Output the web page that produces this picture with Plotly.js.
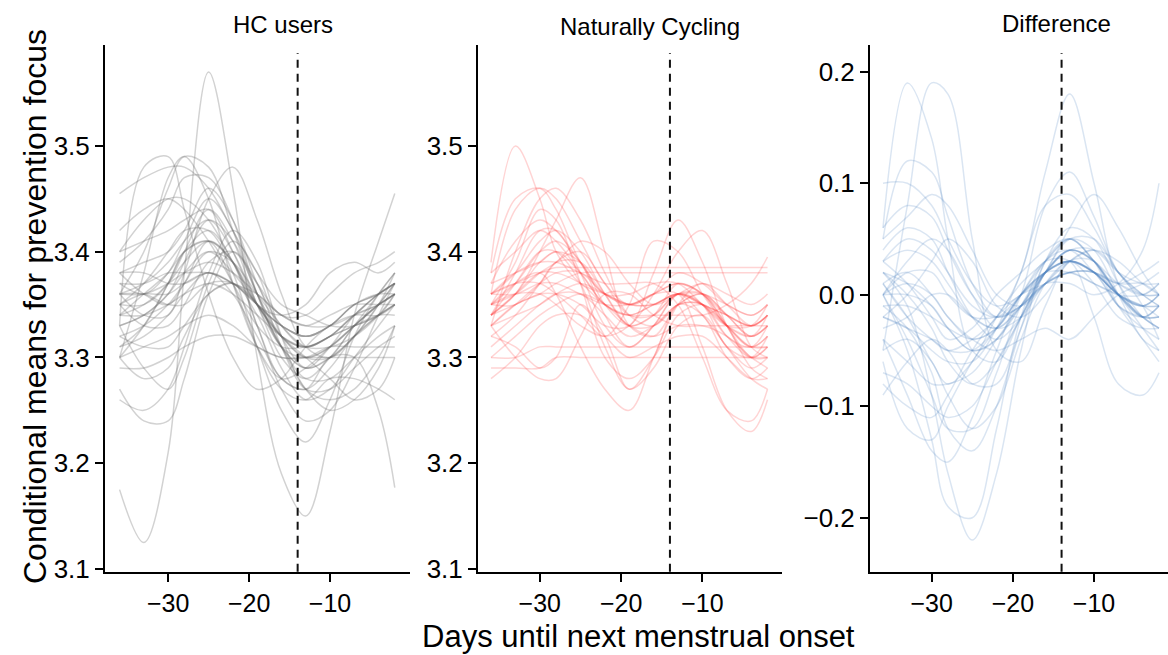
<!DOCTYPE html>
<html>
<head>
<meta charset="utf-8">
<script src="https://cdn.plot.ly/plotly-3.0.1.min.js"></script>
<style>
html,body{margin:0;padding:0;background:#fff;}
#chart{width:1168px;height:655px;}
</style>
</head>
<body>
<div id="chart"></div>
<script>
// Days until next menstrual onset (sample points of each posterior draw)
const days = [-36,-33,-30,-28,-25,-22,-19,-16,-13,-10,-7,-4,-2];
const onsetLine = -14;
const panelTitles = ["HC users","Naturally Cycling","Difference"];
const xTickVals = [-30,-20,-10];
const xTickText = ["\u221230","\u221220","\u221210"];
const meanTickVals = [3.1,3.2,3.3,3.4,3.5];
const diffTickVals = [-0.2,-0.1,0.0,0.1,0.2];
const yTitle = "Conditional means for prevention focus";
const xTitle = "Days until next menstrual onset";

// HC users: conditional mean draws
const hcDraws = [
[3.175,3.125,3.21,3.38,3.57,3.46,3.30,3.19,3.15,3.23,3.34,3.41,3.455],
[3.30,3.33,3.37,3.40,3.42,3.39,3.33,3.28,3.27,3.30,3.30,3.25,3.177],
[3.455,3.47,3.48,3.48,3.46,3.42,3.38,3.35,3.34,3.33,3.33,3.34,3.35],
[3.33,3.48,3.49,3.44,3.36,3.30,3.27,3.28,3.31,3.33,3.34,3.34,3.35],
[3.30,3.38,3.47,3.49,3.45,3.37,3.31,3.28,3.29,3.31,3.33,3.35,3.36],
[3.36,3.40,3.46,3.49,3.48,3.42,3.36,3.32,3.31,3.32,3.33,3.34,3.34],
[3.36,3.34,3.34,3.38,3.45,3.48,3.43,3.36,3.31,3.30,3.32,3.34,3.35],
[3.37,3.36,3.38,3.41,3.45,3.42,3.36,3.31,3.30,3.31,3.33,3.35,3.37],
[3.35,3.35,3.37,3.40,3.44,3.41,3.35,3.31,3.29,3.31,3.34,3.36,3.37],
[3.38,3.39,3.40,3.42,3.46,3.43,3.37,3.33,3.31,3.32,3.33,3.34,3.36],
[3.33,3.34,3.36,3.39,3.43,3.41,3.36,3.32,3.30,3.30,3.32,3.35,3.38],
[3.36,3.37,3.39,3.41,3.43,3.40,3.35,3.30,3.28,3.30,3.33,3.36,3.38],
[3.40,3.41,3.42,3.43,3.44,3.40,3.35,3.32,3.31,3.32,3.34,3.36,3.37],
[3.34,3.36,3.38,3.40,3.41,3.39,3.35,3.32,3.30,3.31,3.33,3.35,3.36],
[3.32,3.33,3.35,3.37,3.40,3.39,3.36,3.33,3.31,3.31,3.32,3.34,3.36],
[3.36,3.36,3.37,3.38,3.39,3.38,3.36,3.34,3.33,3.33,3.34,3.35,3.36],
[3.37,3.37,3.38,3.38,3.38,3.37,3.35,3.33,3.32,3.33,3.35,3.36,3.36],
[3.35,3.36,3.36,3.37,3.38,3.37,3.36,3.34,3.33,3.34,3.35,3.35,3.35],
[3.34,3.34,3.35,3.36,3.37,3.36,3.34,3.32,3.31,3.32,3.34,3.36,3.37],
[3.38,3.38,3.37,3.37,3.38,3.37,3.35,3.33,3.32,3.33,3.35,3.36,3.37],
[3.31,3.32,3.34,3.36,3.38,3.36,3.32,3.28,3.27,3.29,3.32,3.34,3.35],
[3.30,3.31,3.32,3.33,3.34,3.33,3.31,3.30,3.30,3.31,3.31,3.31,3.31],
[3.29,3.29,3.30,3.31,3.32,3.32,3.31,3.30,3.30,3.30,3.30,3.30,3.30],
[3.32,3.31,3.31,3.33,3.36,3.37,3.35,3.31,3.28,3.28,3.30,3.32,3.33],
[3.27,3.24,3.24,3.28,3.36,3.40,3.37,3.31,3.27,3.27,3.29,3.31,3.32],
[3.26,3.25,3.27,3.31,3.38,3.42,3.39,3.32,3.27,3.26,3.27,3.30,3.33],
[3.35,3.37,3.40,3.42,3.42,3.38,3.31,3.25,3.22,3.26,3.32,3.36,3.38],
[3.38,3.36,3.35,3.37,3.41,3.39,3.33,3.27,3.24,3.25,3.29,3.34,3.37],
[3.33,3.34,3.36,3.38,3.40,3.38,3.35,3.32,3.30,3.28,3.26,3.27,3.30],
[3.36,3.36,3.35,3.35,3.37,3.37,3.35,3.31,3.27,3.25,3.26,3.29,3.33],
[3.31,3.33,3.37,3.40,3.41,3.37,3.31,3.27,3.26,3.28,3.28,3.27,3.26],
[3.34,3.35,3.37,3.39,3.41,3.39,3.35,3.34,3.35,3.38,3.39,3.38,3.39],
[3.35,3.33,3.33,3.35,3.39,3.40,3.37,3.34,3.34,3.36,3.38,3.39,3.40],
[3.40,3.43,3.45,3.45,3.43,3.39,3.35,3.33,3.32,3.33,3.35,3.36,3.37],
[3.42,3.44,3.45,3.44,3.41,3.37,3.33,3.31,3.31,3.32,3.34,3.35,3.36],
[3.39,3.41,3.44,3.47,3.47,3.43,3.36,3.31,3.29,3.30,3.32,3.35,3.37],
[3.33,3.29,3.27,3.30,3.37,3.41,3.38,3.32,3.29,3.30,3.33,3.35,3.36],
[3.30,3.28,3.29,3.32,3.36,3.37,3.34,3.29,3.26,3.27,3.30,3.33,3.35]
];

// Naturally cycling: conditional mean draws
const ncDraws = [
[3.39,3.50,3.45,3.40,3.37,3.36,3.35,3.35,3.36,3.35,3.34,3.33,3.34],
[3.34,3.36,3.40,3.43,3.47,3.40,3.33,3.32,3.35,3.36,3.34,3.32,3.33],
[3.36,3.44,3.46,3.45,3.41,3.37,3.35,3.36,3.37,3.36,3.34,3.33,3.34],
[3.38,3.45,3.46,3.44,3.39,3.36,3.36,3.37,3.37,3.35,3.33,3.33,3.35],
[3.33,3.40,3.45,3.46,3.43,3.38,3.34,3.33,3.35,3.36,3.34,3.32,3.33],
[3.35,3.37,3.38,3.36,3.31,3.27,3.25,3.30,3.35,3.37,3.35,3.33,3.34],
[3.33,3.30,3.28,3.28,3.32,3.36,3.36,3.34,3.33,3.33,3.33,3.33,3.33],
[3.34,3.35,3.36,3.36,3.35,3.33,3.33,3.38,3.43,3.39,3.33,3.30,3.31],
[3.36,3.37,3.37,3.36,3.34,3.32,3.35,3.41,3.40,3.36,3.33,3.31,3.32],
[3.35,3.36,3.36,3.35,3.33,3.32,3.33,3.36,3.40,3.42,3.37,3.31,3.30],
[3.36,3.38,3.39,3.39,3.38,3.37,3.37,3.37,3.35,3.30,3.25,3.24,3.27],
[3.33,3.35,3.37,3.38,3.38,3.36,3.35,3.36,3.36,3.31,3.25,3.23,3.26],
[3.34,3.36,3.38,3.38,3.37,3.35,3.34,3.34,3.34,3.34,3.35,3.37,3.395],
[3.36,3.37,3.38,3.385,3.385,3.385,3.385,3.385,3.385,3.385,3.385,3.385,3.385],
[3.33,3.35,3.36,3.37,3.38,3.38,3.38,3.38,3.38,3.38,3.38,3.38,3.38],
[3.30,3.30,3.31,3.31,3.31,3.31,3.31,3.31,3.31,3.31,3.31,3.31,3.31],
[3.29,3.29,3.29,3.30,3.30,3.30,3.30,3.30,3.30,3.30,3.30,3.30,3.30],
[3.35,3.37,3.40,3.41,3.39,3.34,3.31,3.33,3.36,3.35,3.31,3.30,3.32],
[3.34,3.36,3.39,3.40,3.39,3.35,3.33,3.34,3.36,3.35,3.32,3.31,3.33],
[3.36,3.38,3.41,3.42,3.40,3.36,3.33,3.34,3.37,3.36,3.33,3.32,3.34],
[3.35,3.35,3.37,3.39,3.40,3.37,3.34,3.34,3.36,3.35,3.33,3.32,3.33],
[3.32,3.34,3.37,3.39,3.39,3.36,3.33,3.33,3.35,3.35,3.32,3.30,3.31],
[3.37,3.38,3.39,3.40,3.38,3.35,3.34,3.35,3.36,3.35,3.34,3.33,3.34],
[3.31,3.33,3.35,3.36,3.36,3.34,3.32,3.33,3.35,3.35,3.33,3.31,3.31],
[3.34,3.38,3.42,3.42,3.38,3.33,3.31,3.33,3.36,3.36,3.33,3.30,3.30],
[3.38,3.40,3.42,3.41,3.38,3.35,3.34,3.35,3.36,3.36,3.35,3.34,3.35],
[3.30,3.32,3.34,3.35,3.36,3.35,3.33,3.32,3.33,3.33,3.32,3.30,3.29],
[3.28,3.30,3.33,3.34,3.34,3.32,3.30,3.31,3.32,3.32,3.30,3.28,3.28],
[3.32,3.31,3.29,3.30,3.35,3.32,3.27,3.30,3.35,3.34,3.30,3.28,3.29],
[3.35,3.39,3.44,3.43,3.37,3.30,3.28,3.30,3.34,3.35,3.33,3.31,3.32],
[3.37,3.41,3.43,3.42,3.39,3.36,3.35,3.36,3.38,3.37,3.35,3.34,3.35],
[3.33,3.34,3.35,3.36,3.37,3.36,3.35,3.35,3.36,3.34,3.31,3.28,3.27],
[3.36,3.36,3.37,3.37,3.36,3.35,3.35,3.36,3.37,3.36,3.33,3.29,3.28],
[3.34,3.37,3.40,3.40,3.37,3.31,3.27,3.29,3.33,3.34,3.31,3.29,3.30],
[3.35,3.36,3.38,3.39,3.41,3.40,3.37,3.35,3.36,3.37,3.36,3.35,3.36]
];

// Difference (HC users minus naturally cycling) draws
const diffDraws = [
[0.06,0.19,0.14,0.05,-0.05,-0.06,-0.02,0.02,0.04,0.03,0.00,-0.02,-0.01],
[-0.05,0.08,0.19,0.18,0.05,-0.05,-0.06,-0.01,0.03,0.03,0.00,-0.02,-0.02],
[0.05,0.12,0.11,0.07,0.01,-0.02,-0.01,0.01,0.03,0.02,0.00,-0.01,0.00],
[0.10,0.10,0.08,0.05,0.01,-0.01,0.00,0.02,0.04,0.03,0.01,0.00,0.01],
[0.02,-0.01,-0.09,-0.16,-0.22,-0.16,-0.05,0.03,0.05,0.03,-0.01,-0.02,-0.01],
[0.00,-0.05,-0.13,-0.19,-0.20,-0.12,-0.02,0.03,0.04,0.02,0.00,-0.02,-0.03],
[-0.06,-0.12,-0.13,-0.10,-0.06,-0.03,0.00,0.03,0.05,0.03,0.00,-0.02,-0.02],
[-0.04,-0.09,-0.14,-0.15,-0.11,-0.05,0.00,0.02,0.03,0.02,0.00,-0.01,-0.01],
[0.01,-0.02,-0.04,-0.05,-0.04,-0.02,0.02,0.11,0.18,0.10,0.01,-0.02,-0.01],
[0.00,0.00,-0.01,-0.03,-0.05,-0.04,0.00,0.08,0.11,0.07,0.02,0.00,0.00],
[-0.02,-0.03,-0.05,-0.06,-0.06,-0.03,0.02,0.08,0.09,0.06,0.02,0.00,-0.01],
[0.02,0.01,-0.01,-0.03,-0.05,-0.04,-0.01,0.02,0.06,0.09,0.06,0.02,0.00],
[-0.01,-0.01,-0.02,-0.03,-0.04,-0.03,0.00,0.03,0.03,-0.02,-0.08,-0.09,-0.07],
[0.00,0.02,0.02,0.00,-0.02,-0.02,-0.01,0.01,0.01,0.00,0.01,0.04,0.10],
[0.03,0.04,0.03,0.01,-0.02,-0.03,-0.01,0.02,0.04,0.03,-0.01,-0.04,-0.06],
[0.01,0.02,0.00,-0.02,-0.04,-0.03,0.00,0.02,0.03,0.02,0.00,-0.01,-0.02],
[-0.02,-0.03,-0.04,-0.05,-0.05,-0.03,0.00,0.02,0.02,0.01,0.00,-0.01,-0.01],
[0.03,0.05,0.04,0.02,-0.01,-0.02,0.00,0.02,0.03,0.02,0.01,0.01,0.00],
[-0.04,-0.06,-0.08,-0.08,-0.07,-0.04,-0.01,0.02,0.03,0.01,-0.02,-0.03,-0.03],
[0.04,0.06,0.05,0.02,-0.02,-0.04,-0.02,0.02,0.05,0.05,0.02,0.00,-0.01],
[-0.07,-0.08,-0.10,-0.11,-0.10,-0.06,-0.02,0.02,0.03,0.02,-0.01,-0.03,-0.04],
[-0.09,-0.06,-0.04,-0.05,-0.08,-0.08,-0.03,0.02,0.04,0.03,0.00,-0.01,0.00],
[0.00,0.03,0.05,0.04,0.00,-0.03,-0.02,0.01,0.02,0.02,0.00,-0.02,-0.03],
[-0.03,-0.02,0.00,0.00,-0.02,-0.03,-0.01,0.01,0.02,0.01,0.00,0.00,0.01],
[0.02,0.00,-0.03,-0.06,-0.08,-0.06,-0.02,0.02,0.04,0.04,0.02,0.01,0.01],
[0.06,0.08,0.07,0.04,0.00,-0.02,-0.01,0.01,0.02,0.02,0.01,0.00,0.00],
[-0.05,-0.04,-0.06,-0.09,-0.12,-0.10,-0.04,0.01,0.03,0.02,-0.01,-0.02,-0.02],
[0.00,0.01,0.00,-0.02,-0.04,-0.05,-0.04,-0.03,-0.04,-0.02,0.00,0.01,0.02],
[-0.01,-0.03,-0.07,-0.12,-0.14,-0.10,-0.03,0.03,0.06,0.05,0.01,-0.02,-0.03],
[0.05,0.07,0.09,0.08,0.04,0.00,-0.01,0.01,0.03,0.04,0.03,0.01,0.00],
[-0.02,0.00,0.03,0.05,0.03,-0.01,-0.02,0.00,0.03,0.04,0.02,-0.01,-0.04],
[0.01,-0.02,-0.06,-0.08,-0.06,-0.02,0.01,0.03,0.05,0.04,0.00,-0.04,-0.05],
[-0.08,-0.10,-0.11,-0.09,-0.05,-0.02,0.00,0.01,0.02,0.02,0.01,0.02,0.03],
[0.03,0.01,-0.02,-0.04,-0.03,0.00,0.02,0.04,0.05,0.03,0.00,-0.03,-0.05],
[0.00,-0.04,-0.09,-0.12,-0.12,-0.07,-0.01,0.02,0.03,0.02,0.00,-0.01,0.00]
];

const W = 1168, H = 655;
const fontFam = "Liberation Sans, Arial, Helvetica, sans-serif";

const panels = [
  {draws: hcDraws,   color: "rgba(105,105,105,0.30)", xa: "x",  ya: "y"},
  {draws: ncDraws,   color: "rgba(255,60,60,0.22)",   xa: "x2", ya: "y2"},
  {draws: diffDraws, color: "rgba(80,130,195,0.21)",  xa: "x3", ya: "y3"}
];

const traces = [];
panels.forEach(p => {
  p.draws.forEach(d => {
    traces.push({
      type: "scatter", mode: "lines", x: days, y: d,
      xaxis: p.xa, yaxis: p.ya,
      line: {color: p.color, width: 1.5, shape: "spline", smoothing: 1.0},
      hoverinfo: "skip", showlegend: false
    });
  });
});

const yDom = [1 - 571.7/H, 1 - 45/H];
function xAxis(dom, rng) {
  return {
    domain: dom, range: rng, showline: true, linewidth: 2, linecolor: "#000",
    ticks: "outside", ticklen: 8, tickwidth: 2, tickcolor: "#000",
    tickvals: xTickVals, ticktext: xTickText,
    showgrid: false, zeroline: false,
    tickfont: {family: fontFam, size: 25, color: "#000"}
  };
}
function yAxis(rng, vals, anchor) {
  return {
    domain: yDom, range: rng, anchor: anchor, showline: true, linewidth: 2, linecolor: "#000",
    ticks: "outside", ticklen: 8, tickwidth: 2, tickcolor: "#000",
    tickvals: vals, tickformat: ".1f",
    showgrid: false, zeroline: false,
    tickfont: {family: fontFam, size: 26, color: "#000"}
  };
}

const xa1 = xAxis([105/W, 410/W], [-37.8, -0.12]); xa1.anchor = "y";
const xa2 = xAxis([478/W, 782/W], [-37.6, -0.22]); xa2.anchor = "y2";
const xa3 = xAxis([870/W, 1], [-37.6, -0.89]); xa3.anchor = "y3";

const shapes = ["x","x2","x3"].map((xr, i) => ({
  type: "line", xref: xr, yref: (i === 0 ? "y" : "y" + (i+1)) + " domain",
  x0: onsetLine, x1: onsetLine, y0: 0, y1: 0.985,
  line: {color: "#111", width: 2, dash: "8px,6px"}
}));

function ann(text, px, py, size, angle) {
  return {text: text, x: px/W, y: 1 - py/H, xref: "paper", yref: "paper",
    xanchor: "center", yanchor: "middle", showarrow: false, textangle: angle || 0,
    font: {family: fontFam, size: size, color: "#000"}};
}

const layout = {
  width: W, height: H,
  margin: {l: 0, r: 0, t: 0, b: 0},
  paper_bgcolor: "#fff", plot_bgcolor: "#fff",
  showlegend: false,
  xaxis: xa1, xaxis2: xa2, xaxis3: xa3,
  yaxis: yAxis([3.0974, 3.5955], meanTickVals, "x"),
  yaxis2: yAxis([3.0974, 3.5955], meanTickVals, "x2"),
  yaxis3: yAxis([-0.2484, 0.224], diffTickVals, "x3"),
  shapes: shapes,
  annotations: [
    ann(panelTitles[0], 283, 25, 24),
    ann(panelTitles[1], 650, 27, 24),
    ann(panelTitles[2], 1056, 24, 24),
    ann(yTitle, 35, 307, 32, -90),
    ann(xTitle, 638, 636, 31)
  ]
};

Plotly.newPlot("chart", traces, layout, {displayModeBar: false, staticPlot: true});
</script>
</body>
</html>
